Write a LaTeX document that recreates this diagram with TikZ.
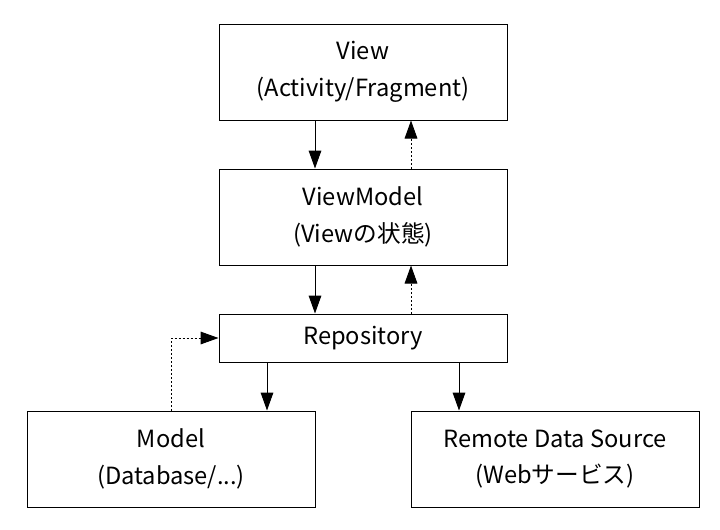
\documentclass[tikz,border=0pt]{standalone}
\usepackage{fontspec}
\setmainfont{Noto Sans CJK JP}
\usetikzlibrary{arrows.meta, positioning}

\begin{document}
\begin{tikzpicture}[node distance=36pt, thick]
        \tikzset{
            layer/.style={draw=black, fill=white, line width=0.75pt, minimum width=216pt, minimum height=72pt, inner sep=0pt, align=center, font=\fontsize{17.75pt}{27.5pt}\selectfont},
            flow/.style={line width=0.75pt, -{Triangle[length=13.5pt, width=9.5pt]}},
            back/.style={flow, dash pattern=on 1.5pt off 1.5pt}
        }
        \useasboundingbox (0,0) rectangle (540pt,-396.75pt);

        \node[layer] (view) at (272.25pt,-54pt) {View\\(Activity/Fragment)};
        \node[layer, below=of view] (viewmodel) {ViewModel\\(Viewの状態)};
        \node[layer, minimum height=36pt, below=of viewmodel] (repo) {Repository};
        \node[layer, below=of repo, xshift=-144pt] (model) {Model\\(Database/...)};
        \node[layer, below=of repo, xshift=144pt] (remote) {Remote Data Source\\(Webサービス)};

        \draw[flow] ([xshift=-36pt]view.south) -- ([xshift=-36pt]viewmodel.north);
        \draw[back] ([xshift=36pt]viewmodel.north) -- ([xshift=36pt]view.south);
        \draw[flow] ([xshift=-36pt]viewmodel.south) -- ([xshift=-36pt]repo.north);
        \draw[back] ([xshift=36pt]repo.north) -- ([xshift=36pt]viewmodel.south);
        \draw[flow] ([xshift=-72pt]repo.south) -- ([xshift=72pt]model.north);
        \draw[flow] ([xshift=72pt]repo.south) -- ([xshift=-72pt]remote.north);
        \draw[back] (model.north) |- (repo.west);
    \end{tikzpicture}
\end{document}
